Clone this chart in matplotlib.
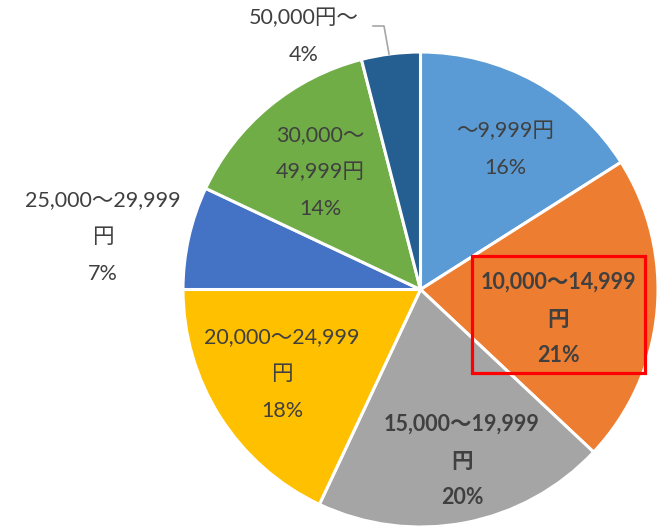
import matplotlib.pyplot as plt
from matplotlib.patches import Rectangle

plt.rcParams['font.family'] = ['Lato', 'Noto Sans CJK JP', 'DejaVu Sans']

# data
categories = ['～9,999円', '10,000～14,999円', '15,000～19,999円', '20,000～24,999円',
              '25,000～29,999円', '30,000～49,999円', '50,000円～']
shares = [16, 21, 20, 18, 7, 14, 4]
colors = ['#5B9BD5', '#ED7D31', '#A5A5A5', '#FFC000', '#4472C4', '#70AD47', '#255E91']

# label lines as shown, with centre x and first-line y (pixels from top)
label_lines = [
    ['～9,999円', '16%'],
    ['10,000～14,999', '円', '21%'],
    ['15,000～19,999', '円', '20%'],
    ['20,000～24,999', '円', '18%'],
    ['25,000～29,999', '円', '7%'],
    ['30,000～', '49,999円', '14%'],
    ['50,000円～', '4%'],
]
label_pos = [(505, 131), (558, 282), (462, 424), (282, 337), (103, 200), (320, 135), (304, 18)]
bold = [False, True, True, False, False, False, False]

W, H = 666, 526
fig = plt.figure(figsize=(W / 100, H / 100), dpi=100)
ax = fig.add_axes([0, 0, 1, 1])
ax.set_xlim(0, W)
ax.set_ylim(0, H)
ax.set_aspect('equal')
ax.axis('off')

ax.pie(shares, colors=colors, startangle=90, counterclock=False,
       center=(420.5, H - 289.5), radius=237.5,
       wedgeprops=dict(edgecolor='white', linewidth=2.2))
ax.set_xlim(0, W)
ax.set_ylim(0, H)

step = 37
for lines, (x, y), b in zip(label_lines, label_pos, bold):
    for i, t in enumerate(lines):
        ax.text(x, H - (y + i * step), t, ha='center', va='center', fontsize=15.5,
                color='#404040', fontweight='bold' if b else 'normal')

# leader line for the small slice
ax.plot([373, 384, 389], [H - 26, H - 26, H - 54], color='#A6A6A6', lw=1.2)

# highlight box
ax.add_patch(Rectangle((471.5, H - 373), 173, 117, fill=False, edgecolor='#FF0000', lw=2.3))

fig.savefig('out.png', dpi=100)
